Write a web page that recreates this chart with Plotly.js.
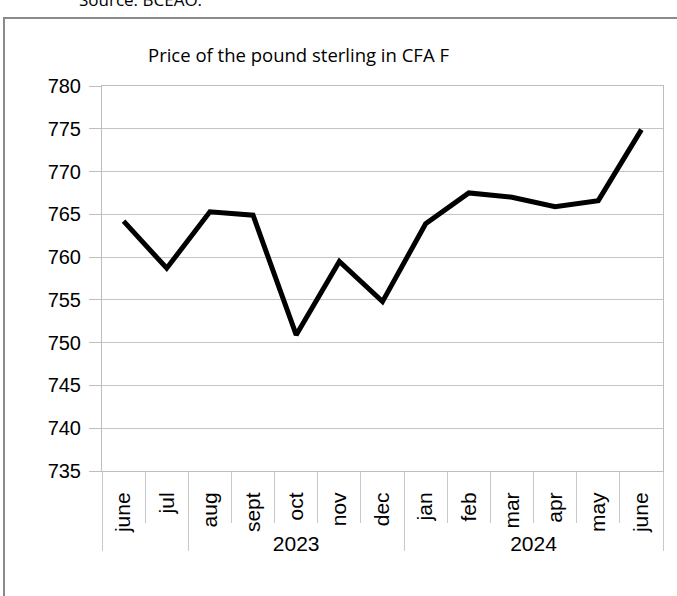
<!DOCTYPE html>
<html>
<head>
<meta charset="utf-8">
<script src="https://cdn.plot.ly/plotly-3.0.1.min.js"></script>
<style>
html,body{margin:0;padding:0;background:#fff;overflow:hidden;}
#frame{position:absolute;left:3px;top:17px;width:700px;height:600px;border-left:2px solid #8a8a8a;border-top:2px solid #8a8a8a;box-sizing:border-box;}
#chart{position:absolute;left:0;top:0;width:677px;height:596px;}
</style>
</head>
<body>
<div id="frame"></div>
<div id="chart"></div>
<script>
// year group of each month (the first two months carry no year label in the source chart)
const years = ["", "", "2023", "2023", "2023", "2023", "2023", "2024", "2024", "2024", "2024", "2024", "2024"];
// the second "june" is wrapped in a span so that it stays a distinct category (same visible text)
const months = ["june", "jul", "aug", "sept", "oct", "nov", "dec", "jan", "feb", "mar", "apr", "may", "<span>june</span>"];
const prices = [764.2, 758.7, 765.3, 764.9, 750.9, 759.5, 754.8, 763.9, 767.5, 767.0, 765.9, 766.6, 774.9];
const yTicks = [735, 740, 745, 750, 755, 760, 765, 770, 775, 780];
const titleText = "Price of the pound sterling in CFA F";
const sourceText = "Source: BCEAO.";

// year groups derived from the years array: centres (for labels) and boundaries (for dividers)
const groupCenters = [], groupLabels = [], groupBounds = [-0.5];
{
  let start = 0;
  for (let i = 1; i <= years.length; i++) {
    if (i === years.length || years[i] !== years[start]) {
      groupCenters.push((start + i - 1) / 2);
      groupLabels.push(years[start]);
      groupBounds.push(i - 0.5);
      start = i;
    }
  }
}
const xRange = [-0.5, months.length - 0.5];

const priceTrace = {
  type: "scatter",
  mode: "lines",
  x: months,
  y: prices,
  line: {color: "#000000", width: 5},
  hoverinfo: "skip"
};
// empty helper traces so that the year-label axis and the divider axis are drawn
const yearAxisTrace = {
  type: "scatter", mode: "lines", xaxis: "x2", yaxis: "y",
  x: groupCenters, y: groupCenters.map(() => null),
  line: {width: 0}, hoverinfo: "skip", showlegend: false
};
const dividerAxisTrace = {
  type: "scatter", mode: "lines", xaxis: "x3", yaxis: "y",
  x: groupBounds, y: groupBounds.map(() => null),
  line: {width: 0}, hoverinfo: "skip", showlegend: false
};

const tickFamily = "Liberation Sans, Arial, sans-serif";

const layout = {
  width: 677,
  height: 596,
  margin: {l: 102, r: 14, t: 86, b: 125},
  paper_bgcolor: "rgba(0,0,0,0)",
  plot_bgcolor: "#ffffff",
  showlegend: false,
  font: {family: tickFamily, color: "#000000"},
  title: {
    text: titleText,
    font: {family: "Open Sans, Calibri, sans-serif", size: 18.5, color: "#000000"},
    x: 148 / 677, xanchor: "left", xref: "container",
    y: 1 - 56 / 596, yanchor: "middle", yref: "container"
  },
  xaxis: {
    type: "category",
    categoryorder: "trace",
    range: xRange,
    tickangle: -90,
    tickfont: {family: tickFamily, size: 21, color: "#000000"},
    showgrid: false,
    showline: true,
    linecolor: "#bdbdbd",
    linewidth: 1,
    mirror: true,
    ticks: "outside",
    tickson: "boundaries",
    ticklen: 51,
    ticklabelstandoff: 12,
    tickcolor: "#c8c8c8",
    tickwidth: 1,
    zeroline: false
  },
  xaxis2: {
    overlaying: "x",
    anchor: "y",
    side: "bottom",
    type: "linear",
    range: xRange,
    tickmode: "array",
    tickvals: groupCenters,
    ticktext: groupLabels,
    ticks: "",
    ticklabelstandoff: 58,
    tickfont: {family: tickFamily, size: 21, color: "#000000"},
    showline: false,
    showgrid: false,
    zeroline: false
  },
  xaxis3: {
    overlaying: "x",
    anchor: "y",
    side: "bottom",
    type: "linear",
    range: xRange,
    tickmode: "array",
    tickvals: groupBounds,
    ticks: "outside",
    ticklen: 79,
    tickcolor: "#c8c8c8",
    tickwidth: 1,
    showticklabels: false,
    showline: false,
    showgrid: false,
    zeroline: false
  },
  yaxis: {
    range: [735, 780],
    tickvals: yTicks,
    ticktext: yTicks.map(String),
    tickfont: {family: tickFamily, size: 20, color: "#000000"},
    showgrid: true,
    gridcolor: "#c4c4c4",
    gridwidth: 1,
    showline: true,
    linecolor: "#bdbdbd",
    linewidth: 1,
    mirror: true,
    ticks: "outside",
    ticklen: 12,
    ticklabelstandoff: 4,
    tickcolor: "#bdbdbd",
    zeroline: false
  },
  annotations: [
    {
      text: sourceText,
      xref: "paper", yref: "paper",
      x: (77 - 102) / 561, y: (471 - (-1)) / 385,
      xanchor: "left", yanchor: "middle",
      showarrow: false,
      font: {family: "Open Sans, Calibri, sans-serif", size: 17, color: "#000000"}
    }
  ]
};

Plotly.newPlot("chart", [priceTrace, yearAxisTrace, dividerAxisTrace], layout, {displayModeBar: false, staticPlot: true});
</script>
</body>
</html>
